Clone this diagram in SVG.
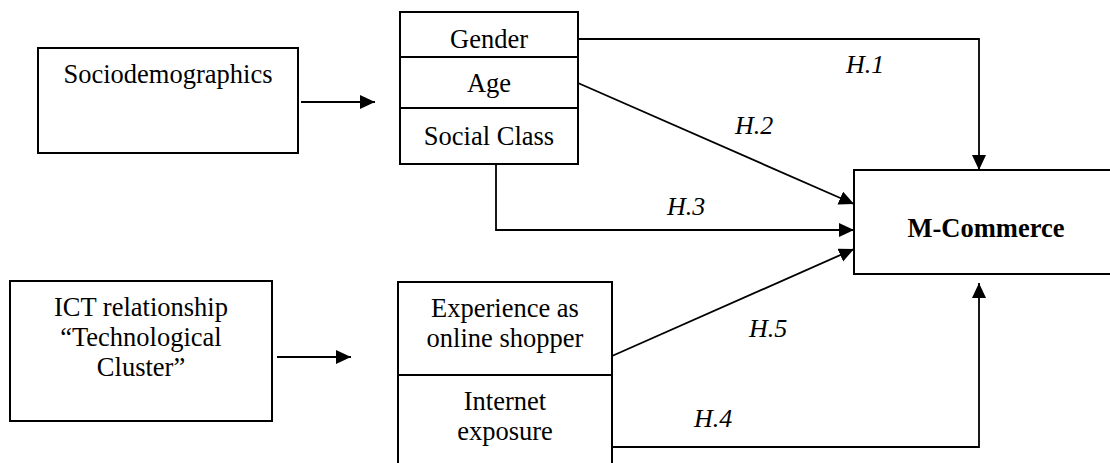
<svg xmlns="http://www.w3.org/2000/svg" width="1110" height="463" viewBox="0 0 1110 463" font-family="Liberation Serif, Times New Roman, serif">
<style>
.box{fill:#fff;stroke:#000;stroke-width:2}
.div{stroke:#000;stroke-width:2}
.t{font-size:26.5px;fill:#000;text-anchor:middle}
.b{font-weight:bold}
.h{font-size:26px;font-style:italic;fill:#000}
.c{fill:none;stroke:#000;stroke-width:1.8}
</style>
<defs>
<marker id="ah" markerUnits="userSpaceOnUse" markerWidth="16" markerHeight="15" refX="15" refY="7" orient="auto">
<path d="M0,0 L15,7 L0,14 z" fill="#000"/>
</marker>
</defs>
<rect width="1110" height="463" fill="#fff"/>
<g id="sociodemographics">
<rect class="box" x="38" y="48" width="260" height="105"/>
<text class="t" x="168" y="83">Sociodemographics</text>
</g>
<g id="demographic-vars">
<rect class="box" x="400" y="12" width="178" height="152"/>
<line class="div" x1="400" y1="57" x2="578" y2="57"/>
<line class="div" x1="400" y1="108" x2="578" y2="108"/>
<text class="t" x="489" y="48">Gender</text>
<text class="t" x="489" y="92">Age</text>
<text class="t" x="489" y="145">Social Class</text>
</g>
<g id="ict">
<rect class="box" x="10" y="281" width="262" height="140"/>
<text class="t" x="141" y="316">ICT relationship</text>
<text class="t" x="141" y="346">“Technological</text>
<text class="t" x="141" y="376">Cluster”</text>
</g>
<g id="ict-vars">
<rect class="box" x="398" y="282" width="214" height="200"/>
<line class="div" x1="398" y1="375" x2="612" y2="375"/>
<text class="t" x="505" y="317">Experience as</text>
<text class="t" x="505" y="347">online shopper</text>
<text class="t" x="505" y="410">Internet</text>
<text class="t" x="505" y="440">exposure</text>
</g>
<g id="mcommerce">
<rect class="box" x="854" y="170" width="270" height="104"/>
<text class="t b" x="986" y="237">M-Commerce</text>
</g>
<g id="connectors">
<line class="c" x1="301" y1="102" x2="375" y2="102" marker-end="url(#ah)"/>
<line class="c" x1="277" y1="357" x2="351" y2="357" marker-end="url(#ah)"/>
<polyline class="c" points="578,39 979,39 979,170" marker-end="url(#ah)"/>
<line class="c" x1="578" y1="83" x2="854" y2="204" marker-end="url(#ah)"/>
<polyline class="c" points="496,164 496,230 854,230" marker-end="url(#ah)"/>
<line class="c" x1="612" y1="356" x2="854" y2="249" marker-end="url(#ah)"/>
<polyline class="c" points="612,447 979,447 979,283" marker-end="url(#ah)"/>
<text class="h" x="846" y="73">H.1</text>
<text class="h" x="735" y="134">H.2</text>
<text class="h" x="667" y="215">H.3</text>
<text class="h" x="749" y="337">H.5</text>
<text class="h" x="694" y="427">H.4</text>
</g>
</svg>
